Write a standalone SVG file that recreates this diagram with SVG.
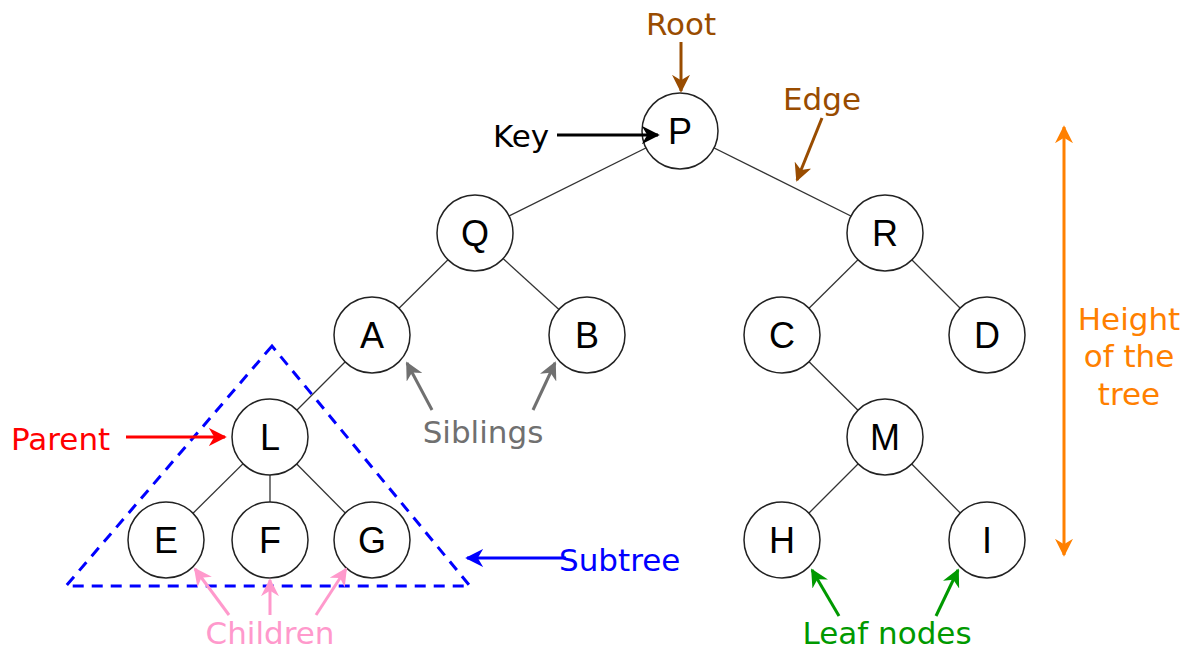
<svg xmlns="http://www.w3.org/2000/svg" width="1190" height="651" viewBox="0 0 1190 651">
<style>
.node circle{fill:#fff;stroke:#222;stroke-width:1.5}
.node text{font-family:"Liberation Sans",Arial,sans-serif;font-size:36px;fill:#000;text-anchor:middle}
.edge{stroke:#333;stroke-width:1.3;fill:none}
.lbl{font-family:"DejaVu Sans",Verdana,sans-serif;font-size:31px}
.ann{fill:none;stroke-width:3}
</style>
<defs>
<marker id="mBrown" viewBox="0 0 10 10" refX="9" refY="5" markerWidth="6" markerHeight="6" orient="auto"><path d="M0,0 L10,5 L0,10 L3,5 z" fill="#994C00"/></marker>
<marker id="mBlack" viewBox="0 0 10 10" refX="9" refY="5" markerWidth="6" markerHeight="6" orient="auto"><path d="M0,0 L10,5 L0,10 L3,5 z" fill="#000"/></marker>
<marker id="mGray" viewBox="0 0 10 10" refX="9" refY="5" markerWidth="6" markerHeight="6" orient="auto"><path d="M0,0 L10,5 L0,10 L3,5 z" fill="#707070"/></marker>
<marker id="mRed" viewBox="0 0 10 10" refX="9" refY="5" markerWidth="6" markerHeight="6" orient="auto"><path d="M0,0 L10,5 L0,10 L3,5 z" fill="#FF0000"/></marker>
<marker id="mBlue" viewBox="0 0 10 10" refX="9" refY="5" markerWidth="6" markerHeight="6" orient="auto"><path d="M0,0 L10,5 L0,10 L3,5 z" fill="#0000FF"/></marker>
<marker id="mPink" viewBox="0 0 10 10" refX="9" refY="5" markerWidth="6" markerHeight="6" orient="auto"><path d="M0,0 L10,5 L0,10 L3,5 z" fill="#FF99CC"/></marker>
<marker id="mGreen" viewBox="0 0 10 10" refX="9" refY="5" markerWidth="6" markerHeight="6" orient="auto"><path d="M0,0 L10,5 L0,10 L3,5 z" fill="#009900"/></marker>
<marker id="mOrange" viewBox="0 0 10 10" refX="9" refY="5" markerWidth="6" markerHeight="6" orient="auto-start-reverse"><path d="M0,0 L10,5 L0,10 L3,5 z" fill="#FF8000"/></marker>
</defs>
<rect width="1190" height="651" fill="#fff"/>

<g id="subtree-outline">
<polygon points="272,346 66,586 470,586" fill="none" stroke="#0000FF" stroke-width="3" stroke-dasharray="11,8"/>
</g>

<g id="connectors">
<line class="edge" x1="680" y1="131" x2="475" y2="233"/>
<line class="edge" x1="680" y1="131" x2="885" y2="233"/>
<line class="edge" x1="475" y1="233" x2="372" y2="335"/>
<line class="edge" x1="475" y1="233" x2="587" y2="335"/>
<line class="edge" x1="885" y1="233" x2="782" y2="335"/>
<line class="edge" x1="885" y1="233" x2="987" y2="335"/>
<line class="edge" x1="372" y1="335" x2="270" y2="437"/>
<line class="edge" x1="270" y1="437" x2="166" y2="540"/>
<line class="edge" x1="270" y1="437" x2="270" y2="540"/>
<line class="edge" x1="270" y1="437" x2="372" y2="540"/>
<line class="edge" x1="782" y1="335" x2="885" y2="437"/>
<line class="edge" x1="885" y1="437" x2="782" y2="540"/>
<line class="edge" x1="885" y1="437" x2="987" y2="540"/>
</g>

<g id="node-P" class="node"><circle cx="680" cy="131" r="38"/><text x="680" y="144">P</text></g>
<g id="node-Q" class="node"><circle cx="475" cy="233" r="38"/><text x="475" y="246">Q</text></g>
<g id="node-R" class="node"><circle cx="885" cy="233" r="38"/><text x="885" y="246">R</text></g>
<g id="node-A" class="node"><circle cx="372" cy="335" r="38"/><text x="372" y="348">A</text></g>
<g id="node-B" class="node"><circle cx="587" cy="335" r="38"/><text x="587" y="348">B</text></g>
<g id="node-C" class="node"><circle cx="782" cy="335" r="38"/><text x="782" y="348">C</text></g>
<g id="node-D" class="node"><circle cx="987" cy="335" r="38"/><text x="987" y="348">D</text></g>
<g id="node-L" class="node"><circle cx="270" cy="437" r="38"/><text x="270" y="450">L</text></g>
<g id="node-M" class="node"><circle cx="885" cy="437" r="38"/><text x="885" y="450">M</text></g>
<g id="node-E" class="node"><circle cx="166" cy="540" r="38"/><text x="166" y="553">E</text></g>
<g id="node-F" class="node"><circle cx="270" cy="540" r="38"/><text x="270" y="553">F</text></g>
<g id="node-G" class="node"><circle cx="372" cy="540" r="38"/><text x="372" y="553">G</text></g>
<g id="node-H" class="node"><circle cx="782" cy="540" r="38"/><text x="782" y="553">H</text></g>
<g id="node-I" class="node"><circle cx="987" cy="540" r="38"/><text x="987" y="553">I</text></g>

<g id="annotations">
<line class="ann" x1="681" y1="42" x2="681" y2="91" stroke="#994C00" marker-end="url(#mBrown)"/>
<text class="lbl" x="681" y="35" text-anchor="middle" fill="#994C00">Root</text>

<line class="ann" x1="557" y1="135" x2="658" y2="135" stroke="#000" marker-end="url(#mBlack)"/>
<text class="lbl" x="493" y="147" fill="#000">Key</text>

<line class="ann" x1="822" y1="118" x2="797" y2="180" stroke="#994C00" marker-end="url(#mBrown)"/>
<text class="lbl" x="783" y="110" fill="#994C00">Edge</text>

<line class="ann" x1="432" y1="410" x2="407" y2="363" stroke="#707070" marker-end="url(#mGray)"/>
<line class="ann" x1="533" y1="410" x2="555" y2="363" stroke="#707070" marker-end="url(#mGray)"/>
<text class="lbl" x="483" y="443" text-anchor="middle" fill="#707070">Siblings</text>

<line class="ann" x1="126" y1="437" x2="225" y2="437" stroke="#FF0000" marker-end="url(#mRed)"/>
<text class="lbl" x="11" y="450" fill="#FF0000">Parent</text>

<line class="ann" x1="566" y1="558" x2="467" y2="558" stroke="#0000FF" marker-end="url(#mBlue)"/>
<text class="lbl" x="559" y="571" fill="#0000FF">Subtree</text>

<line class="ann" x1="229" y1="615" x2="195" y2="569" stroke="#FF99CC" marker-end="url(#mPink)"/>
<line class="ann" x1="270" y1="615" x2="270" y2="580" stroke="#FF99CC" marker-end="url(#mPink)"/>
<line class="ann" x1="316" y1="615" x2="346" y2="569" stroke="#FF99CC" marker-end="url(#mPink)"/>
<text class="lbl" x="270" y="644" text-anchor="middle" fill="#FF99CC">Children</text>

<line class="ann" x1="839" y1="616" x2="812" y2="570" stroke="#009900" marker-end="url(#mGreen)"/>
<line class="ann" x1="936" y1="616" x2="958" y2="570" stroke="#009900" marker-end="url(#mGreen)"/>
<text class="lbl" x="887" y="644" text-anchor="middle" fill="#009900">Leaf nodes</text>

<line class="ann" x1="1064" y1="127" x2="1064" y2="555" stroke="#FF8000" marker-start="url(#mOrange)" marker-end="url(#mOrange)"/>
<text class="lbl" x="1129" y="330" text-anchor="middle" fill="#FF8000">Height</text>
<text class="lbl" x="1129" y="367" text-anchor="middle" fill="#FF8000">of the</text>
<text class="lbl" x="1129" y="405" text-anchor="middle" fill="#FF8000">tree</text>
</g>
</svg>
